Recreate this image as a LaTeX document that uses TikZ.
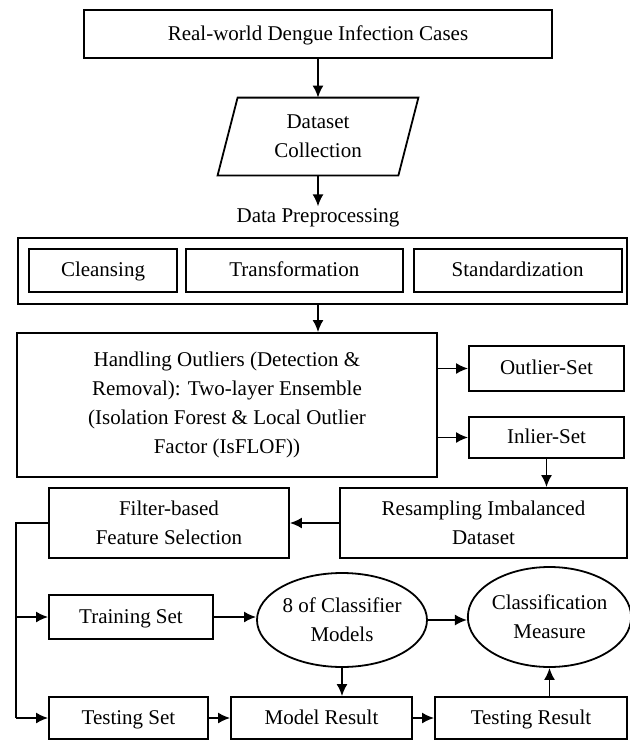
\documentclass[tikz,border=0pt]{standalone}
\usepackage{fontspec}
\setmainfont{Liberation Serif}
\usetikzlibrary{positioning,shapes.geometric,arrows.meta}

\begin{document}
\begin{tikzpicture}[
  x=0.5pt, y=-0.5pt,
  font=\fontsize{10.5}{14.5}\selectfont,
  box/.style={rectangle, draw, line width=0.9pt, inner sep=0pt, align=center},
  line/.style={box, text height=8pt, text depth=2pt},
  oval/.style={ellipse, draw, line width=0.9pt, inner sep=0pt, align=center},
  arrow/.style={-{Latex[length=6pt,width=5.5pt]}, line width=0.9pt}
]
  \useasboundingbox (0,0) rectangle (630,740);

  % Source
  \node[line, minimum width=234pt, minimum height=24pt] (cases) at (318,34) {Real-world Dengue Infection Cases};

  % Dataset (parallelogram)
  \node[align=center, inner sep=0pt, minimum width=90pt, minimum height=38.5pt] (dataset) at (318,136.5) {Dataset\\Collection};
  \draw[line width=0.9pt] ([xshift=-5pt]dataset.south west) -- ([xshift=5pt]dataset.north west)
    -- ([xshift=5pt]dataset.north east) -- ([xshift=-5pt]dataset.south east) -- cycle;

  % Preprocessing
  \node[inner sep=1pt] (pretitle) at (318,218) {Data Preprocessing};
  \node[box, minimum width=304.5pt, minimum height=33pt] (prep) at (322.5,271) {};
  \node[line, minimum width=74pt, minimum height=21.5pt] (clean) at (103,270.5) {Cleansing};
  \node[line, minimum width=108.5pt, minimum height=21.5pt, right=3.5pt of clean] (trans) {Transformation};
  \node[line, minimum width=104pt, minimum height=21.5pt, right=4.5pt of trans] (stand) {Standardization};

  % Outliers
  \node[box, minimum width=210pt, minimum height=72pt] (outl) at (227,405)
    {Handling Outliers (Detection \&\\Removal): Two-layer Ensemble\\(Isolation Forest \& Local Outlier\\Factor (IsFLOF))};
  \node[line, minimum width=77.5pt, minimum height=22.5pt] (outset) at (546.5,368.5) {Outlier-Set};
  \node[line, minimum width=77.5pt, minimum height=20.5pt] (inset) at (546.5,437.5) {Inlier-Set};

  % Resampling + selection
  \node[box, minimum width=143.5pt, minimum height=35pt] (resamp) at (483.5,523) {Resampling Imbalanced\\Dataset};
  \node[box, minimum width=120pt, minimum height=35pt] (filter) at (169,523) {Filter-based\\Feature Selection};

  % Training / testing
  \coordinate (rail) at (16,0);
  \node[line, minimum width=82pt, minimum height=22pt] (train) at (131,617) {Training Set};
  \node[line, minimum width=79.5pt, minimum height=21pt] (test) at (128.5,718) {Testing Set};
  \node[oval, minimum width=85pt, minimum height=47pt] (models) at (342,620) {8 of Classifier\\Models};
  \node[oval, minimum width=77.5pt, minimum height=50pt] (measure) at (549.5,617) {Classification\\Measure};
  \node[line, minimum width=90.5pt, minimum height=21pt] (modres) at (321.5,718) {Model Result};
  \node[line, minimum width=96pt, minimum height=21pt] (testres) at (531,718) {Testing Result};

  % Arrows
  \draw[arrow] (cases) -- (dataset);
  \draw[arrow] (dataset.south) -- (pretitle.north);
  \draw[arrow] (prep.south -| pretitle) -- (outl.north -| pretitle);
  \draw[arrow] (outl.east |- outset) -- (outset.west);
  \draw[arrow] (outl.east |- inset) -- (inset.west);
  \draw[arrow] (inset.south) -- (inset.south |- resamp.north);
  \draw[arrow] (resamp) -- (filter);
  \draw[line width=0.9pt] (filter.west) -- (filter.west -| rail) -- (test.west -| rail);
  \draw[arrow] (train.west -| rail) -- (train.west);
  \draw[arrow] (test.west -| rail) -- (test.west);
  \draw[arrow] (train) -- (train -| models.west);
  \draw[arrow] (models) -- (models -| measure.west);
  \draw[arrow] (models.south) -- (models.south |- modres.north);
  \draw[arrow] (test) -- (modres);
  \draw[arrow] (modres) -- (testres);
  \draw[arrow] (measure.south |- testres.north) -- (measure.south);
\end{tikzpicture}
\end{document}
